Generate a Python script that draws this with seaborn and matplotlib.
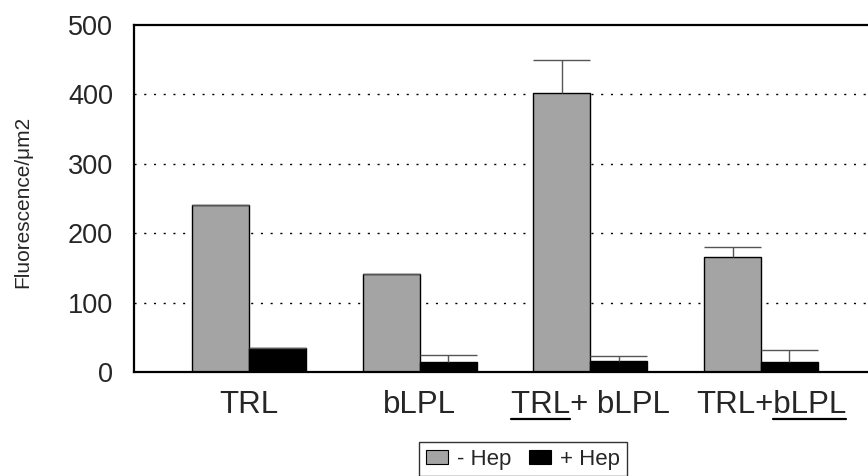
import matplotlib
matplotlib.use("Agg")
import matplotlib.pyplot as plt
import matplotlib.transforms as mtransforms
import seaborn as sns
import pandas as pd
from matplotlib.patches import Patch
from matplotlib.lines import Line2D

# ---- data ----
categories = ["TRL", "bLPL", "TRL+ bLPL", "TRL+bLPL"]
underline_parts = [None, None, ("start", "TRL"), ("end", "bLPL")]  # which part is underlined
series_names = ["- Hep", "+ Hep"]
minus_hep = [240, 141, 402, 166]
plus_hep = [35, 15, 16, 15]
minus_hep_err = [0, 0, 48, 14]
plus_hep_err = [0, 9, 7, 16]
yticks = [0, 100, 200, 300, 400, 500]

rows = []
for c, v in zip(categories, minus_hep):
    rows.append({"cond": c, "value": v, "treat": series_names[0]})
for c, v in zip(categories, plus_hep):
    rows.append({"cond": c, "value": v, "treat": series_names[1]})
df = pd.DataFrame(rows)

sns.set_style("white")
plt.rcParams["font.family"] = ["Liberation Sans", "DejaVu Sans"]

gray = "#a4a4a4"
palette = {series_names[0]: gray, series_names[1]: "black"}

fig = plt.figure(figsize=(8.68, 4.76), dpi=100)
ax = fig.add_axes([134 / 868, 104 / 476, 1 - 134 / 868, 347 / 476])

sns.barplot(data=df, x="cond", y="value", hue="treat", order=categories,
            hue_order=series_names, palette=palette, width=0.667,
            edgecolor="black", linewidth=1.0, errorbar=None, legend=False,
            saturation=1, ax=ax)

# error bars (upper only), caps span bar width
for cont, errs in zip(ax.containers, [minus_hep_err, plus_hep_err]):
    for patch, e in zip(cont.patches, errs):
        x0 = patch.get_x()
        w = patch.get_width()
        h = patch.get_height()
        top = h + e
        ax.vlines(x0 + w / 2, h, top, color="#555555", lw=1.0, zorder=3)
        ax.hlines(top, x0, x0 + w, color="#555555", lw=1.0, zorder=3)

ax.set_ylim(0, 500)
ax.set_xlim(-0.674, 3.627)
ax.set_yticks(yticks)
ax.set_yticklabels([str(t) for t in yticks], fontsize=19.5)
ax.set_xticks(range(len(categories)))
ax.set_xticklabels(categories, fontsize=22.5)
ax.tick_params(axis="both", length=0)
ax.tick_params(axis="x", pad=13)
ax.tick_params(axis="y", pad=15)

# the last category label sits slightly right of its group in the reference
last = ax.get_xticklabels()[-1]
last.set_transform(last.get_transform() +
                   mtransforms.ScaledTranslation(10 / 100, 0, fig.dpi_scale_trans))

ax.set_xlabel("")
ax.set_ylabel("Fluorescence/\u03bcm2", fontsize=15)
ax.yaxis.set_label_coords(-0.139, 0.49)

for t in yticks[1:-1]:
    ax.axhline(t, color="black", lw=1.0, linestyle=(0, (1.5, 5.5)), zorder=0)

for s in ["left", "bottom", "top"]:
    ax.spines[s].set_visible(True)
    ax.spines[s].set_color("black")
    ax.spines[s].set_linewidth(1.6)
ax.spines["right"].set_visible(False)

handles = [Patch(facecolor=gray, edgecolor="black", lw=0.8),
           Patch(facecolor="black", edgecolor="black", lw=0.8)]
leg = fig.legend(handles, series_names, loc="upper center",
                 bbox_to_anchor=(523 / 868, 34 / 476), ncol=2, fontsize=16,
                 frameon=True, fancybox=False, handlelength=1.0,
                 handleheight=0.6, handletextpad=0.4, columnspacing=0.8,
                 borderpad=0.3, borderaxespad=0)
leg.get_frame().set_edgecolor("black")
leg.get_frame().set_linewidth(1.0)

# underline parts of tick labels
fig.canvas.draw()
renderer = fig.canvas.get_renderer()


def width_of(s, lab):
    t = fig.text(0, 0, s, fontsize=lab.get_fontsize(),
                 fontfamily=lab.get_fontfamily())
    w = t.get_window_extent(renderer).width
    t.remove()
    return w


for lab, part in zip(ax.get_xticklabels(), underline_parts):
    if part is None:
        continue
    side, under = part
    bb = lab.get_window_extent(renderer)
    w = width_of(under, lab)
    if side == "start":
        x_start, x_end = bb.x0, bb.x0 + w
    else:
        x_start, x_end = bb.x1 - w, bb.x1
    y = bb.y0 + 1
    fig.add_artist(Line2D([x_start / fig.bbox.width, x_end / fig.bbox.width],
                          [y / fig.bbox.height, y / fig.bbox.height],
                          color="black", lw=1.6, transform=fig.transFigure))

fig.savefig("out.png", dpi=100)
